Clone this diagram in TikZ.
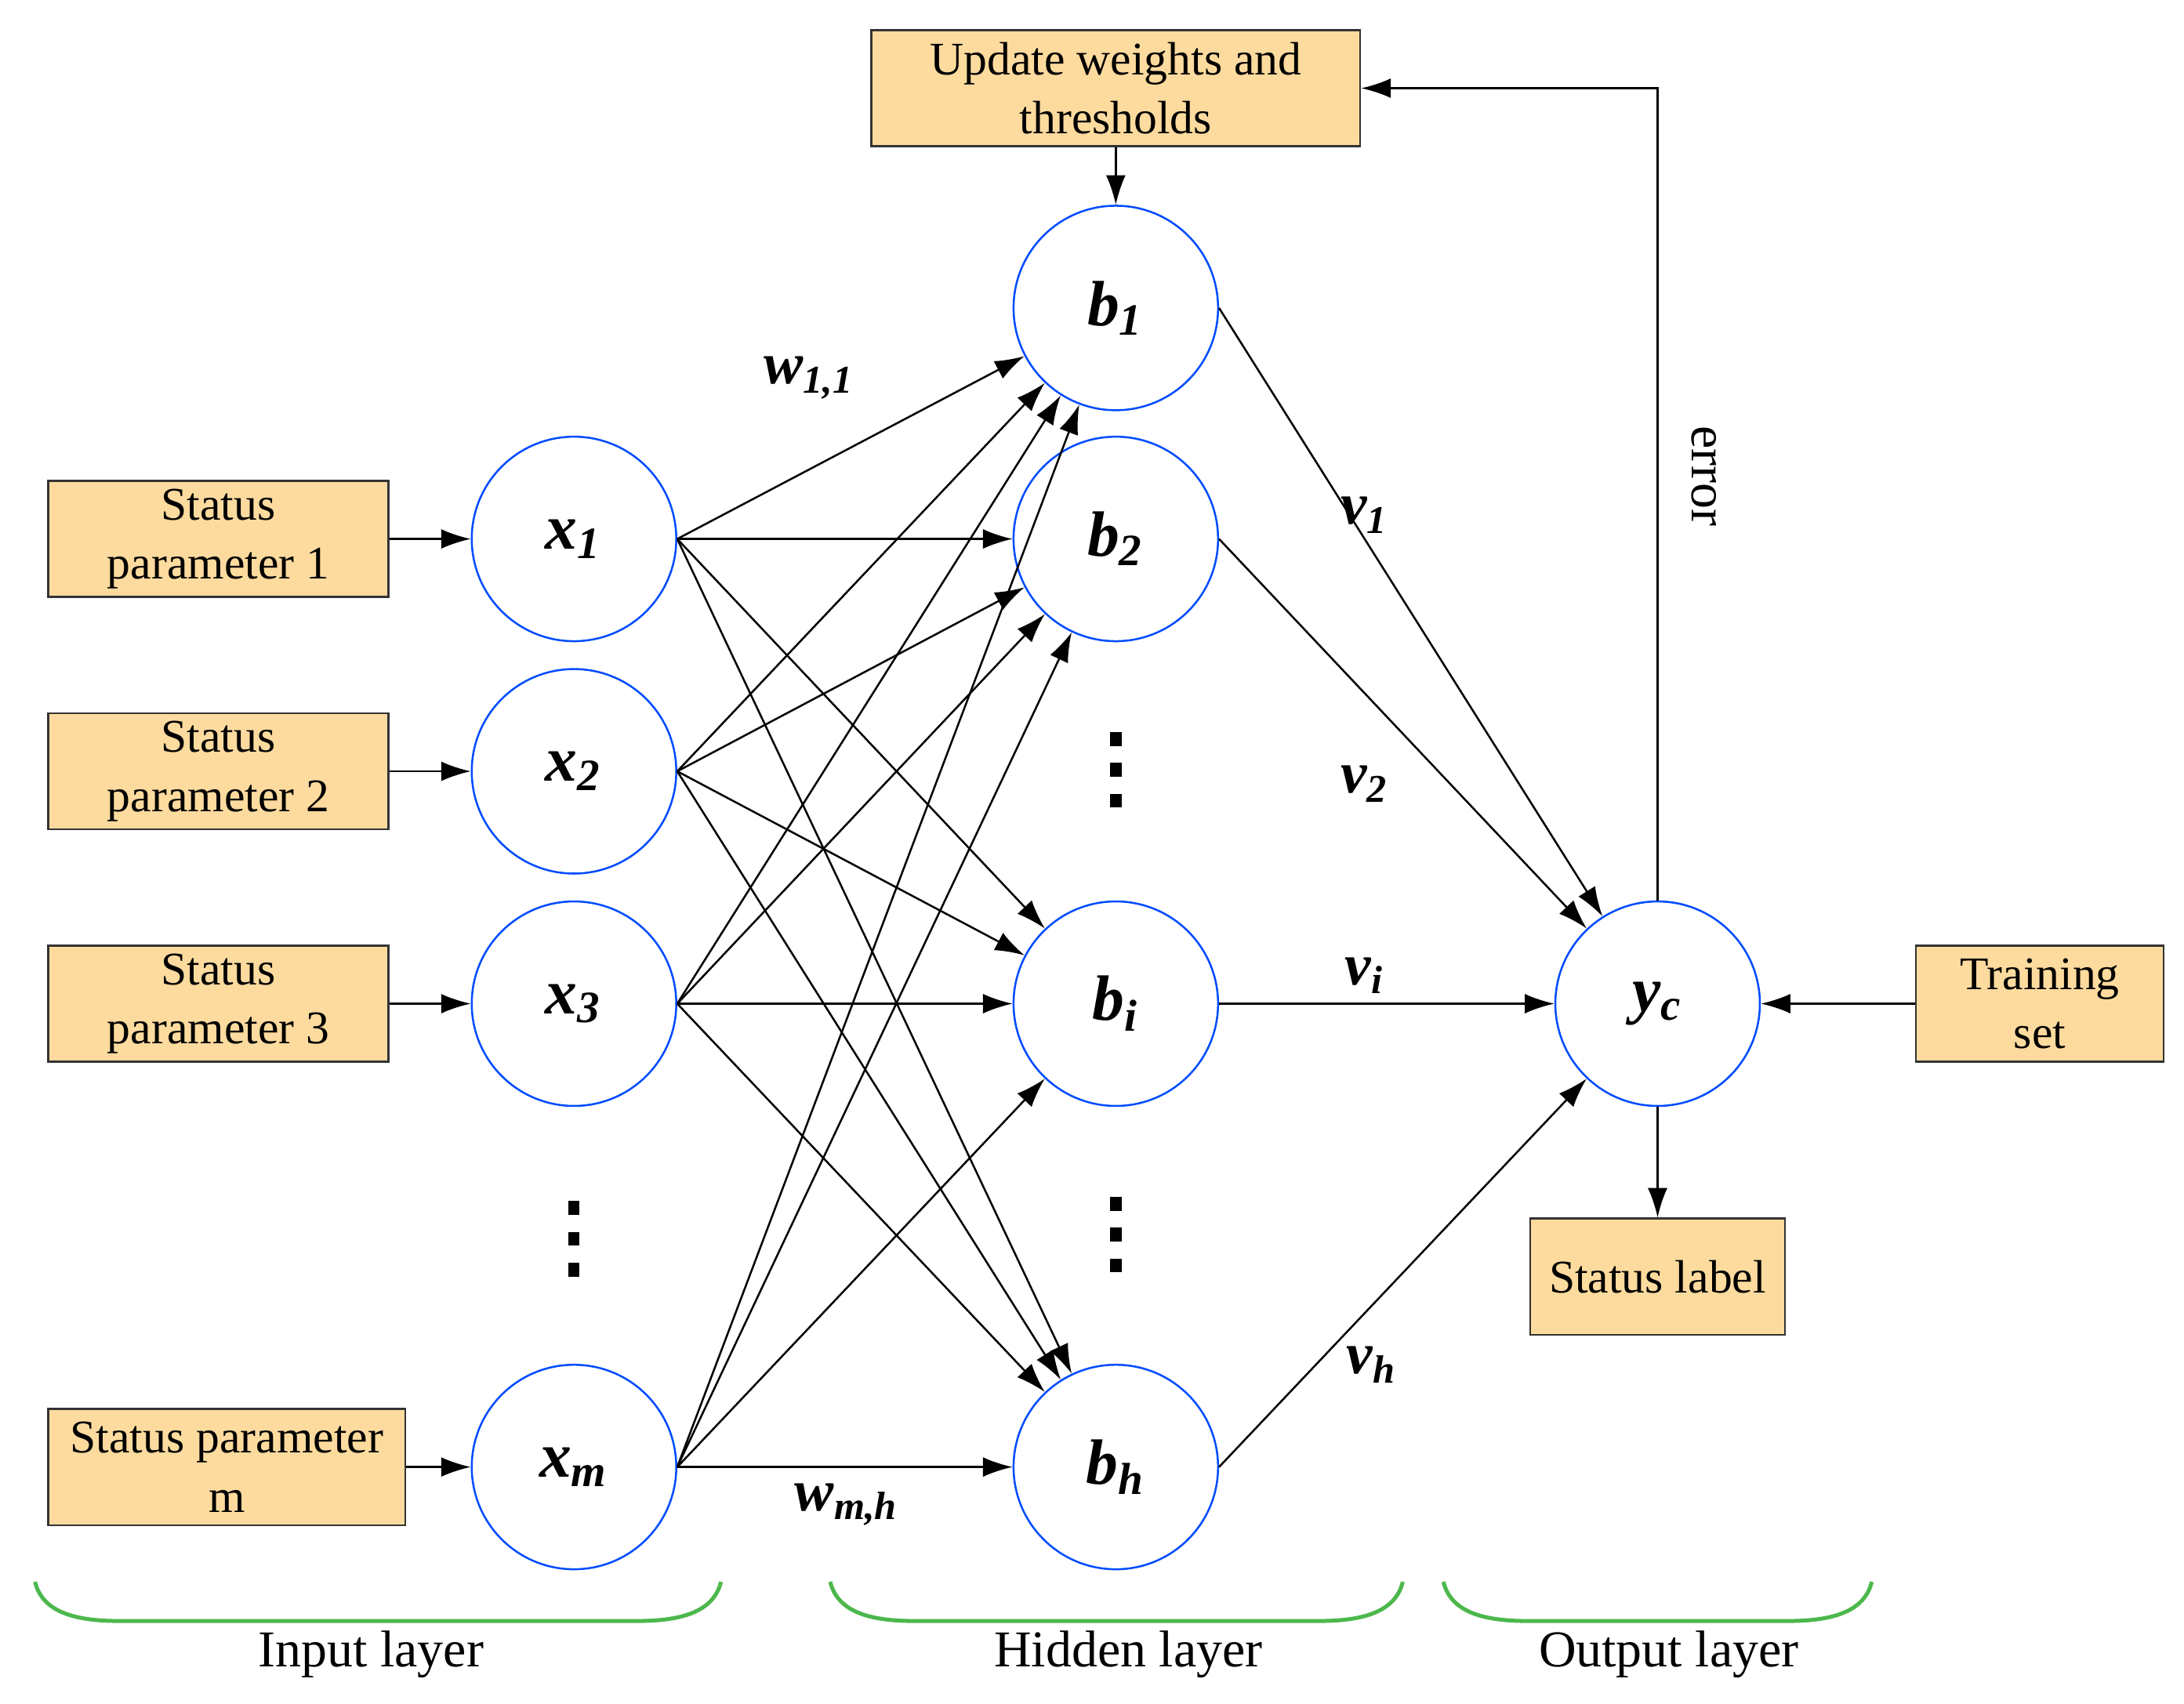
\documentclass[tikz,border=0pt]{standalone}
\usepackage{fontspec}
\setmainfont{Liberation Serif}
\usetikzlibrary{arrows.meta}
\begin{document}
\begin{tikzpicture}[x=0.01cm,y=-0.01cm,
  neu/.style={circle,draw=blue!70!cyan,minimum size=1.46cm,inner sep=0pt,font=\fontsize{13}{15}\selectfont\bfseries\itshape},
  box/.style={draw=black!80,fill=yellow!25!orange!35,minimum height=0.83cm,align=center,inner sep=1pt,font=\fontsize{9.5}{12}\selectfont},
  arr/.style={-{Latex[length=6pt,width=4pt]},thin},
  lab/.style={font=\fontsize{12}{14}\selectfont\bfseries\itshape},
  br/.style={draw=green!60!black!70,thick},
  txt/.style={font=\fontsize{10.5}{13}\selectfont}]
\useasboundingbox (0,0) rectangle (1560,1217);
\fill[white] (0,0) rectangle (1560,1217);
\node[neu] (x1) at (410,385) {x\textsubscript{1}};
\node[neu] (x2) at (410,551) {x\textsubscript{2}};
\node[neu] (x3) at (410,717) {x\textsubscript{3}};
\node[neu] (xm) at (410,1048) {x\textsubscript{m}};
\node[neu] (b1) at (797,220) {b\textsubscript{1}};
\node[neu] (b2) at (797,385) {b\textsubscript{2}};
\node[neu] (bi) at (797,717) {b\textsubscript{i}};
\node[neu] (bh) at (797,1048) {b\textsubscript{h}};
\node[neu] (yc) at (1184,717) {y\textsubscript{c}};
\node[box,minimum width=3.49cm] (up) at (797,63) {Update weights and\\thresholds};
\node[box,minimum width=2.43cm] (s1) at (156,385) {Status\\parameter 1};
\node[box,minimum width=2.43cm] (s2) at (156,551) {Status\\parameter 2};
\node[box,minimum width=2.43cm] (s3) at (156,717) {Status\\parameter 3};
\node[box,minimum width=2.55cm] (sm) at (162,1048) {Status parameter\\m};
\node[box,minimum width=1.77cm] (ts) at (1457,717) {Training\\set};
\node[box,minimum width=1.82cm] (sl) at (1184,912) {Status label};
\foreach \s/\x in {s1/x1,s2/x2,s3/x3,sm/xm} \draw[arr] (\s) -- (\x);
\foreach \x in {x1,x2,x3,xm} \foreach \b in {b1,b2,bi,bh} \draw[arr] (\x.east) -- (\b);
\foreach \b in {b1,b2,bi,bh} \draw[arr] (\b.east) -- (yc);
\draw[arr] (ts) -- (yc);
\draw[arr] (yc) -- (sl);
\draw[arr] (up) -- (b1);
\coordinate (c1) at (1184,63);
\draw[arr] (yc.north) -- (c1) -- (up.east);
\node[rotate=-90,txt] at (1217,340) {error};
\node[lab] at (578,270) {w\textsubscript{1,1}};
\node[lab] at (605,1075) {w\textsubscript{m,h}};
\node[lab] at (975,368) {v\textsubscript{1}};
\node[lab] at (975,560) {v\textsubscript{2}};
\node[lab] at (975,697) {v\textsubscript{i}};
\node[lab] at (980,975) {v\textsubscript{h}};
\foreach \px/\py in {410/885,797/550,797/882}
  \foreach \d in {-22,0,22} \fill (\px-4,\py+\d-5) rectangle (\px+4,\py+\d+5);
\foreach \a/\b in {25/515,593/1002,1031/1337}
  \draw[br] (\a,1130) .. controls (\a+5,1150) and (\a+25,1158) .. (\a+60,1158) -- (\b-60,1158) .. controls (\b-25,1158) and (\b-5,1150) .. (\b,1130);
\node[txt] at (265,1182) {Input layer};
\node[txt] at (806,1182) {Hidden layer};
\node[txt] at (1192,1182) {Output layer};
\end{tikzpicture}
\end{document}
